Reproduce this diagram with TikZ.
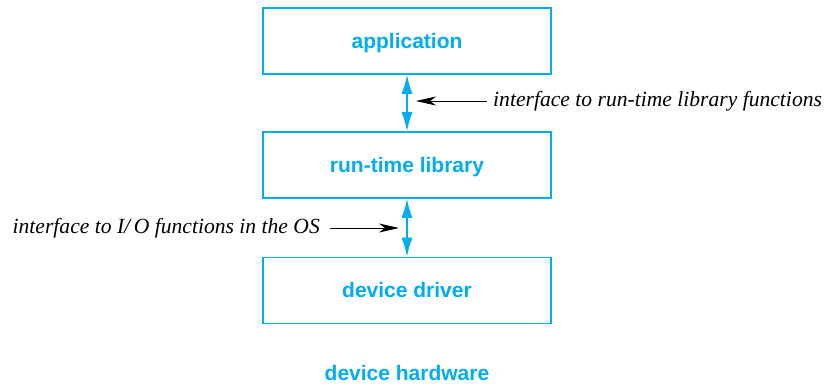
\documentclass[tikz,border=0pt]{standalone}
\usepackage{fontspec}
\setmainfont{Liberation Serif}
\setsansfont{Liberation Sans}
\usetikzlibrary{arrows.meta}
\definecolor{cy}{RGB}{0,174,239}
\begin{document}
\begin{tikzpicture}[x=1pt,y=-1pt,
  layer/.style={draw=cy,line width=1.6pt,minimum width=288pt,minimum height=66pt,text height=15pt,text depth=0pt,font=\sffamily\bfseries\fontsize{21}{24}\selectfont,text=cy,inner sep=0pt},
  plain/.style={font=\sffamily\bfseries\fontsize{21}{24}\selectfont,text=cy,inner sep=0pt},
  lbl/.style={font=\itshape\fontsize{21.6}{24}\selectfont,inner sep=0pt},
  dbl/.style={cy,line width=1.6pt,{Latex[length=19pt,width=11pt]}-{Latex[length=19pt,width=11pt]}},
  ptr/.style={black,line width=0.8pt,-{Stealth[length=20pt,width=9pt,inset=6pt]}}]
\useasboundingbox (0,0) rectangle (824,387);
\node[layer] (app) at (407,41) {application};
\node[layer] (rtl) at (407,165) {run-time library};
\node[layer] (drv) at (407,290.5) {device driver};
\node[plain] (hw) at (407,373) {device hardware};
\draw[dbl] (app.south) -- (rtl.north);
\draw[dbl] (rtl.south) -- (drv.north);
\node[lbl,anchor=west] (l1) at (493,101) {interface to run-time library functions};
\node[lbl,anchor=east] (l2) at (320,228) {interface to I/\,O functions in the OS};
\coordinate (t1) at (416,101);
\coordinate (t2) at (399,228);
\draw[ptr] ([xshift=-6pt]l1.west) -- (t1);
\draw[ptr] ([xshift=10pt]l2.east) -- (t2);
\end{tikzpicture}
\end{document}
